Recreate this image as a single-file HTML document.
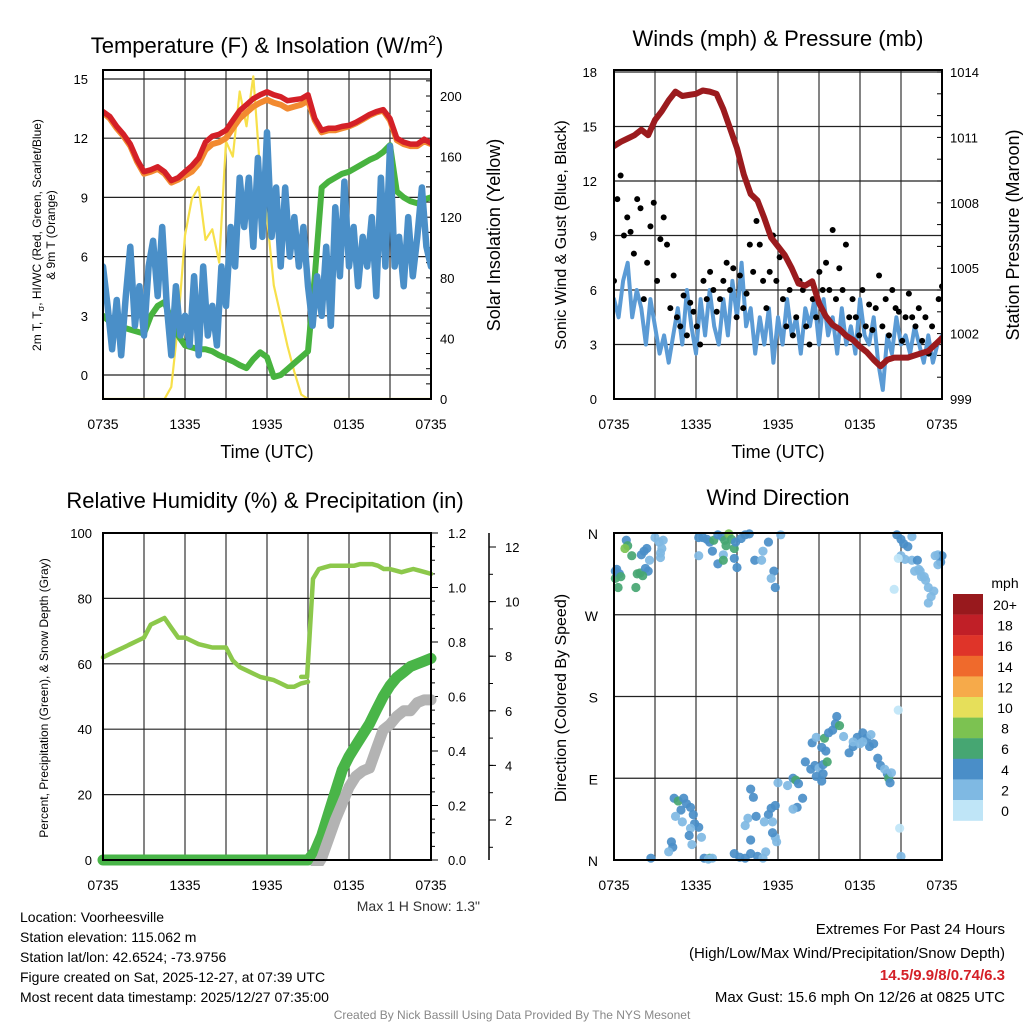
<!DOCTYPE html>
<html><head><meta charset="utf-8"><style>
html,body{margin:0;padding:0;background:#fff;}
svg{display:block;font-family:"Liberation Sans",sans-serif;}
</style></head><body>
<svg id="c" width="1024" height="1024" viewBox="0 0 1024 1024"></svg>
<script>
// ---------- DATA ----------
const timeTicks = ["0735","1335","1935","0135","0735"];
// Panel 1 (half-hourly, 49 pts over 24 h)
const temp2m = [13.35,13.1,12.6,12.2,11.7,10.9,10.3,10.4,10.55,10.3,9.85,10.0,10.3,10.6,11.0,11.8,12.1,12.2,12.4,12.9,13.4,13.7,14.0,14.2,14.35,14.2,14.1,13.9,13.95,14.0,14.2,13.0,12.4,12.5,12.5,12.6,12.65,12.8,13.0,13.2,13.35,13.45,13.0,12.0,11.8,11.7,11.7,11.95,11.75];
const temp9m = [13.3,13.0,12.5,12.1,11.6,10.8,10.2,10.3,10.45,10.2,9.75,9.9,10.1,10.3,10.7,11.4,11.7,11.8,12.0,12.5,13.0,13.3,13.6,13.8,13.95,13.8,13.7,13.5,13.6,13.7,13.9,12.9,12.3,12.4,12.4,12.5,12.6,12.75,12.95,13.15,13.3,13.4,12.9,11.9,11.7,11.6,11.6,11.85,11.7];
const heatIdx = [3.0,2.7,2.5,2.4,2.3,2.2,2.1,3.0,3.5,3.7,2.8,2.0,1.5,1.4,1.3,1.3,1.2,1.0,0.85,0.7,0.5,0.35,0.8,1.15,0.9,-0.1,0.0,0.3,0.6,0.9,1.2,5.0,9.5,9.8,10.0,10.2,10.3,10.5,10.7,10.9,11.05,11.3,11.65,9.3,9.0,8.8,8.7,8.9,9.0];
const windChill = [5.5,3.5,1.3,3.8,1.0,4.0,6.5,2.5,4.5,2.0,5.5,6.8,4.0,7.5,3.5,1.0,4.5,2.0,3.0,1.5,5.0,1.0,5.5,2.0,3.5,1.5,5.5,3.5,7.5,5.5,10.0,7.5,10.0,6.5,11.0,7.0,12.3,7.0,9.5,5.5,9.5,6.0,8.0,5.5,7.5,4.5,2.5,5.0,3.0,6.5,2.5,8.5,5.0,9.8,5.5,7.5,4.5,7.0,5.5,8.0,4.0,10.0,5.5,11.6,5.5,7.0,4.5,8.0,5.0,7.0,9.5,6.5,5.5];
const insolation = [0,0,0,0,0,0,0,0,0,0,8,50,108,132,140,105,112,90,170,160,203,180,213,150,120,75,55,35,18,3,0,0,0,0,0,0,0,0,0,0,0,0,0,0,0,0,0,0,0];
// Panel 2
const windSpeed = [5.5,4.5,6.5,7.5,4.5,6.0,5.0,3.0,5.5,4.0,2.5,3.5,2.0,3.5,5.0,3.0,6.0,4.0,2.5,5.5,3.5,6.0,4.0,3.0,5.5,3.5,6.5,4.5,7.5,4.0,5.0,2.5,4.5,3.0,5.0,2.0,4.5,3.0,5.5,3.5,4.5,2.5,5.0,4.0,5.5,3.0,5.5,3.5,4.5,2.5,5.0,3.0,4.0,2.5,5.5,3.5,3.0,4.5,2.0,0.5,3.5,2.5,4.5,3.0,3.5,2.5,4.0,3.0,2.0,3.5,2.0,3.0,3.5];
const windGust = [6.5,11.0,12.3,9.0,10.0,9.2,8.0,11.0,10.5,5.5,7.5,9.5,10.8,6.5,8.8,10.0,8.5,5.0,6.8,4.5,4.0,5.7,3.5,5.3,4.8,4.0,3.0,6.5,5.5,7.0,6.0,4.8,5.5,6.5,7.5,6.0,7.2,4.5,6.8,5.0,5.8,8.5,7.0,9.8,8.5,6.5,5.0,7.0,9.0,6.5,7.8,5.5,4.0,6.0,3.5,4.5,6.5,6.0,4.0,3.0,5.5,4.5,7.0,6.0,7.5,6.0,9.3,5.5,7.2,6.0,8.5,4.5,5.5,4.5,3.5,6.0,4.0,5.2,3.8,5.0,6.8,4.0,5.5,3.5,6.0,5.0,4.8,3.2,4.5,5.8,4.5,4.0,5.0,3.2,4.5,2.5,4.0,3.0,5.5,6.2];
const pressure = [1010.6,1010.8,1010.95,1011.1,1011.35,1011.1,1011.8,1012.2,1012.7,1013.1,1012.9,1012.95,1013.0,1013.15,1013.1,1013.0,1012.3,1011.4,1010.5,1009.3,1008.4,1008.1,1007.3,1006.4,1006.0,1005.6,1005.0,1004.3,1004.2,1004.4,1003.4,1002.8,1002.4,1002.2,1001.9,1001.7,1001.4,1001.15,1000.8,1000.5,1000.8,1000.9,1000.9,1000.9,1001.0,1001.1,1001.2,1001.5,1001.8];
// Panel 3
const relHum = [62,63,64,65,66,67,68,72,73,74,71,68,68,67,66,65.5,65,65,65,61,59,58,57,56,55.5,55,54,53,53,54,54.5,55,55.5,56,56,56,56,56,56,56,56,56,56,56,56,56,56,56,56];
const relHum2 = [56,56,86,89,89.5,90,90,90,90,90,90.5,90.5,90.5,90,89,89,88.5,88,88.5,89,88.5,88,87.5];
const precip = [0,0,0,0,0,0,0,0,0,0,0,0,0,0,0,0,0,0,0,0,0,0,0,0,0,0,0,0,0,0,0,0.03,0.09,0.17,0.25,0.33,0.38,0.42,0.46,0.50,0.55,0.60,0.64,0.67,0.69,0.71,0.72,0.73,0.74];
const snowDepth = [0.2,0.6,1.3,2.0,2.6,3.2,3.6,3.8,3.9,4.6,5.3,5.5,5.8,6.0,6.0,6.3,6.4,6.4];
// Panel 4 (hour offset, direction deg, speed class 0..10)
const dirHours = [0.2,0.1,0.3,0.4,0.9,1.0,0.8,1.3,1.6,1.7,1.9,2.2,2.4,2.0,2.6,2.5,2.3,3.0,3.3,3.6,3.4,3.5,0.1,0.5,2.1,3.4,
6.2,6.5,6.8,7.0,7.3,7.6,7.9,8.1,8.2,8.4,8.6,8.8,8.9,9.3,9.6,9.9,7.2,7.6,8.0,6.2,8.0,8.8,9.0,10.3,10.8,11.3,10.9,11.7,11.5,11.8,12.2,
20.7,21.0,21.2,21.5,21.8,21.0,21.3,20.8,21.8,22.2,22.0,22.4,22.5,22.8,23.0,23.4,23.2,23.0,20.5,23.7,23.9,24.0,23.7,23.5,22.3,22.7,
2.7,4.4,4.7,5.1,5.3,5.6,4.9,4.5,5.0,5.8,5.9,6.2,5.6,5.5,6.4,4.2,4.3,4.0,5.7,6.6,7.0,6.9,7.2,
8.8,9.2,9.6,10.0,10.5,10.9,11.1,10.0,9.6,9.8,10.4,10.2,10.0,11.3,11.0,11.6,11.8,11.6,11.9,11.5,11.8,12.0,12.7,13.1,13.3,13.5,13.4,13.1,13.8,14.4,14.0,14.7,15.0,15.3,15.5,15.6,15.3,14.8,15.2,14.5,14.8,15.4,15.2,15.7,16.0,16.2,16.5,16.3,16.8,17.2,17.5,17.8,18.0,17.5,18.2,18.5,18.7,19.0,19.3,19.5,20.0,20.1,19.8,20.3,20.2,20.8,20.9,21.0,18.2,18.8];
const dirDegs = [320,310,300,315,352,346,343,335,300,315,316,340,343,336,330,318,321,355,350,352,338,343,318,312,313,333,
355,355,353,350,352,358,356,352,346,359,353,343,350,354,358,359,340,326,336,335,330,332,322,330,330,350,340,318,310,300,358,
358,353,348,345,356,335,331,332,330,330,318,318,312,308,300,296,290,283,298,336,328,335,325,335,320,312,
2,68,65,68,62,58,55,48,42,50,40,36,35,27,25,20,14,9,17,2,2,1,2,
7,3,2,7,4,2,9,22,38,46,48,69,78,50,42,42,25,30,20,57,60,85,82,90,88,84,58,56,68,100,108,104,101,105,120,108,95,92,87,129,135,134,124,140,143,150,148,158,136,118,125,135,128,130,140,134,125,128,112,104,95,90,100,96,85,165,35,4,130,138];
const dirSpeedCls = [2,3,3,2,2,3,4,3,3,3,3,2,2,2,1,2,2,1,1,1,1,1,2,3,3,1,
2,2,2,2,3,2,2,3,3,4,3,3,2,2,2,2,2,2,1,1,3,2,2,2,1,2,1,2,1,2,1,
2,2,2,2,1,1,1,0,1,2,1,1,1,1,1,1,1,1,0,1,2,2,1,1,1,1,
2,2,3,2,2,2,2,1,1,2,2,2,1,2,1,2,2,1,1,2,3,1,1,
2,2,2,2,2,1,1,2,1,1,2,2,2,2,1,1,1,2,1,2,2,1,1,2,3,2,2,1,2,2,2,2,1,2,2,3,2,2,2,2,1,3,2,2,2,2,3,2,1,2,2,2,1,1,2,2,2,2,2,2,2,3,1,1,2,0,0,1,1,1];
const speedLabels = ["0","2","4","6","8","10","12","14","16","18","20+"];
const speedColors = ["#bfe5f7","#7fb9e3","#4a8ec8","#46a672","#7cc251","#e6df5a","#f6aa4a","#ef6a2c","#df3429","#c01f27","#98191d"];

// ---------- HELPERS ----------
const NS="http://www.w3.org/2000/svg";
const svg=document.getElementById('c');
function el(tag,attrs,parent){const e=document.createElementNS(NS,tag);for(const k in attrs)e.setAttribute(k,attrs[k]);(parent||svg).appendChild(e);return e;}
function txt(x,y,s,size,anchor,parent,extra){const t=el('text',Object.assign({x:x,y:y,'font-size':size,'text-anchor':anchor||'middle',fill:'#000'},extra||{}),parent);t.textContent=s;return t;}
function lin(lo,hi,p0,p1){return v=>p0+(v-lo)/(hi-lo)*(p1-p0);}
function group(name){const g=el('g',{});return g;}
function poly(arr,xs,ys,start,end,color,w,name,parent){
  const n=arr.length;const pts=arr.map((v,i)=>xs(start+(end-start)*i/(n-1)).toFixed(1)+','+ys(v).toFixed(1)).join(' ');
  const p=el('polyline',{points:pts,fill:'none',stroke:color,'stroke-width':w,'stroke-linejoin':'round','stroke-linecap':'round'},parent);
  return p;}

function frame(g,L,T,R,B,xs,yTicks,ys,labelX){
  for(let h=0;h<=24;h+=3){const x=xs(h);el('line',{x1:x,y1:T,x2:x,y2:B,stroke:'#333','stroke-width':1.2},g);}
  yTicks.forEach(v=>{const y=ys(v);el('line',{x1:L,y1:y,x2:R,y2:y,stroke:'#222','stroke-width':1.2},g);
    const t=txt(labelX,y+5,String(v),13,'end',g);});
  timeTicks.forEach((s,i)=>{const t=txt(xs(i*6),B+30,s,14,'middle',g);});
}
function border(g,L,T,R,B){el('rect',{x:L,y:T,width:R-L,height:B-T,fill:'none',stroke:'#000','stroke-width':2},g);}

// ---------- PANEL 1 ----------
(function(){
  const L=103,T=70,R=431,B=399;const g=group('temperature-panel');
  const xs=lin(0,24,L,R), ys=lin(0,15,375,79), yr=lin(0,200,399,96);
  frame(g,L,T,R,B,xs,[0,3,6,9,12,15],ys,88);
  [0,40,80,120,160,200].forEach(v=>{const t=txt(440,yr(v)+5,String(v),13,'start',g);});
  for(let v=0;v<=210;v+=10)el('line',{x1:R-5,y1:yr(v),x2:R,y2:yr(v),stroke:'#000'},g);
  const cp=el('clipPath',{id:'cp1'},g);el('rect',{x:L,y:T,width:R-L,height:B-T},cp);
  const d=group('temperature-series');d.setAttribute('clip-path','url(#cp1)');g.appendChild(d);
  poly(insolation,xs,yr,0,24,'#f7e04a',2.2,'insolation-line',d);
  poly(heatIdx,xs,ys,0,24,'#48b33f',6,'heat-index-line',d);
  poly(windChill,xs,ys,0,24,'#4a8fc8',6.5,'wind-chill-line',d);
  poly(temp9m,xs,ys,0,24,'#f28a30',6,'temp-9m-line',d);
  poly(temp2m,xs,ys,0,24,'#d42027',5.5,'temp-2m-line',d);
  border(g,L,T,R,B);
  const t=txt(267,53,'',22,'middle',g);t.innerHTML='Temperature (F) &amp; Insolation (W/m<tspan dy="-8" font-size="14">2</tspan><tspan dy="8">)</tspan>';
  
  const xl=txt(267,458,'Time (UTC)',18,'middle',g);
  const yl=txt(0,0,'',12,'middle',g,{transform:'translate(41,235) rotate(-90)'});yl.innerHTML='2m T, T<tspan font-size="9" dy="3">σ</tspan><tspan dy="-3">, HI/WC (Red, Green, Scarlet/Blue)</tspan>';
  
  const yl2=txt(0,0,'& 9m T (Orange)',12,'middle',g,{transform:'translate(55,235) rotate(-90)'});
  const yr2=txt(0,0,'Solar Insolation (Yellow)',18,'middle',g,{transform:'translate(500,235) rotate(-90)'});
})();

// ---------- PANEL 2 ----------
(function(){
  const L=614,T=70,R=942,B=399;const g=group('winds-panel');
  const xs=lin(0,24,L,R), ys=lin(0,18,399,72), yp=lin(999,1014,399,72);
  frame(g,L,T,R,B,xs,[0,3,6,9,12,15,18],ys,597);
  [999,1002,1005,1008,1011,1014].forEach(v=>{const t=txt(950,yp(v)+5,String(v),13,'start',g);});
  for(let v=999;v<=1014;v++)el('line',{x1:R-5,y1:yp(v),x2:R,y2:yp(v),stroke:'#000'},g);
  const cp=el('clipPath',{id:'cp2'},g);el('rect',{x:L,y:T,width:R-L,height:B-T},cp);
  const d=group('wind-series');d.setAttribute('clip-path','url(#cp2)');g.appendChild(d);
  poly(windSpeed,xs,ys,0,24,'#5b9bd5',4,'wind-speed-line',d);
  windGust.forEach((v,i)=>{const c=el('circle',{cx:xs(24*i/(windGust.length-1)),cy:ys(v),r:3,fill:'#000'},d);
    });
  poly(pressure,xs,yp,0,24,'#9b1b1e',6,'pressure-line',d);
  border(g,L,T,R,B);
  const t=txt(778,46,'Winds (mph) & Pressure (mb)',22,'middle',g);
  const xl=txt(778,458,'Time (UTC)',18,'middle',g);
  const yl=txt(0,0,'Sonic Wind & Gust (Blue, Black)',16,'middle',g,{transform:'translate(566,235) rotate(-90)'});
  const yr2=txt(0,0,'Station Pressure (Maroon)',18,'middle',g,{transform:'translate(1019,235) rotate(-90)'});
})();

// ---------- PANEL 3 ----------
(function(){
  const L=103,T=533,R=431,B=860;const g=group('humidity-panel');
  const xs=lin(0,24,L,R), ys=lin(0,100,860,533), yp=lin(0,1.2,860,533), ysn=lin(0,12,874.6,547);
  frame(g,L,T,R,B,xs,[0,20,40,60,80,100],ys,92);
  ["0.0","0.2","0.4","0.6","0.8","1.0","1.2"].forEach((s,i)=>{const t=txt(448,yp(i*0.2)+5,s,13,'start',g);});
  for(let v=0;v<=1.21;v+=0.05)el('line',{x1:R,y1:yp(v),x2:R+(Math.round(v*100)%20===0?7:4),y2:yp(v),stroke:'#000'},g);
  el('line',{x1:489,y1:533,x2:489,y2:860,stroke:'#000','stroke-width':1.5},g);
  [2,4,6,8,10,12].forEach(v=>{el('line',{x1:489,y1:ysn(v),x2:496,y2:ysn(v),stroke:'#000'},g);const t=txt(505,ysn(v)+5,String(v),13,'start',g);});
  for(let v=1;v<=12;v++)el('line',{x1:489,y1:ysn(v),x2:493,y2:ysn(v),stroke:'#000'},g);
  const cp=el('clipPath',{id:'cp3'},g);el('rect',{x:L-8,y:T,width:R-L+16,height:B-T+6},cp);
  const d=group('humidity-series');d.setAttribute('clip-path','url(#cp3)');g.appendChild(d);
  poly(relHum.slice(0,31),xs,ys,0,15,'#8cc84b',4.5,'rh-line',d);
  poly(relHum2,xs,ys,14.5,24,'#8cc84b',4.5,'rh-line-2',d);
  const cs=el('clipPath',{id:'cps'},g);el('rect',{x:L,y:T,width:R-L+10,height:B-T+6},cs);
  const ds=group('snow-series');ds.setAttribute('clip-path','url(#cps)');g.appendChild(ds);
  poly(snowDepth,xs,ysn,15.5,24,'#b3b3b3',11,'snow-depth-line',ds);
  poly(precip,xs,yp,0,24,'#49b548',11,'precip-line',d);
  border(g,L,T,R,B);
  const t=txt(265,508,'Relative Humidity (%) & Precipitation (in)',22,'middle',g);
  const yl=txt(0,0,'Percent, Precipitation (Green), & Snow Depth (Gray)',12,'middle',g,{transform:'translate(48,698) rotate(-90)'});
  const sn=txt(480,911,'Max 1 H Snow: 1.3"',14,'end',g,{fill:'#333'});
})();

// ---------- PANEL 4 ----------
(function(){
  const L=614,T=533,R=942,B=860;const g=group('wind-direction-panel');
  const xs=lin(0,24,L,R), yd=lin(0,360,860,533);
  for(let h=0;h<=24;h+=3){const x=xs(h);el('line',{x1:x,y1:T,x2:x,y2:B,stroke:'#333','stroke-width':1.2},g);}
  ["N","E","S","W","N"].forEach((s,i)=>{const y=yd(i*90);el('line',{x1:L,y1:y,x2:R,y2:y,stroke:'#222','stroke-width':1.2},g);
    const t=txt(598,y+6,s,14,'end',g);});
  timeTicks.forEach((s,i)=>{const t=txt(xs(i*6),B+30,s,14,'middle',g);});
  const d=group('direction-points');g.appendChild(d);
  dirHours.forEach((h,i)=>{const c=el('circle',{cx:xs(h),cy:yd(dirDegs[i]),r:4.6,fill:speedColors[dirSpeedCls[i]],'fill-opacity':0.92},d);
    });
  border(g,L,T,R,B);
  const t=txt(778,505,'Wind Direction',22,'middle',g);
  const yl=txt(0,0,'Direction (Colored By Speed)',16,'middle',g,{transform:'translate(566,698) rotate(-90)'});
  const lg=group('speed-colorbar');g.appendChild(lg);
  const m=txt(1005,588,'mph',14,'middle',lg);
  for(let i=0;i<11;i++){const k=10-i;const y=594+i*20.6;
    const r=el('rect',{x:953,y:y,width:30,height:20.8,fill:speedColors[k]},lg);
    const tl=txt(1005,y+16,speedLabels[k],14,'middle',lg);}
})();

// ---------- FOOTER ----------
(function(){
  const g=group('footer');
  ["Location: Voorheesville","Station elevation: 115.062 m","Station lat/lon: 42.6524; -73.9756","Figure created on Sat, 2025-12-27, at 07:39 UTC","Most recent data timestamp: 2025/12/27 07:35:00"].forEach((s,i)=>{
    const t=txt(20,922+i*20,s,14,'start',g);});
  const a=txt(1005,934,'Extremes For Past 24 Hours',15,'end',g);
  const b=txt(1005,958,'(High/Low/Max Wind/Precipitation/Snow Depth)',15,'end',g);
  const c=txt(1005,980,'14.5/9.9/8/0.74/6.3',15,'end',g,{fill:'#d42027','font-weight':'bold'});
  const d=txt(1005,1002,'Max Gust: 15.6 mph On 12/26 at 0825 UTC',15,'end',g);
  const e=txt(512,1019,'Created By Nick Bassill Using Data Provided By The NYS Mesonet',12,'middle',g,{fill:'#888'});
})();
</script>
</body></html>
